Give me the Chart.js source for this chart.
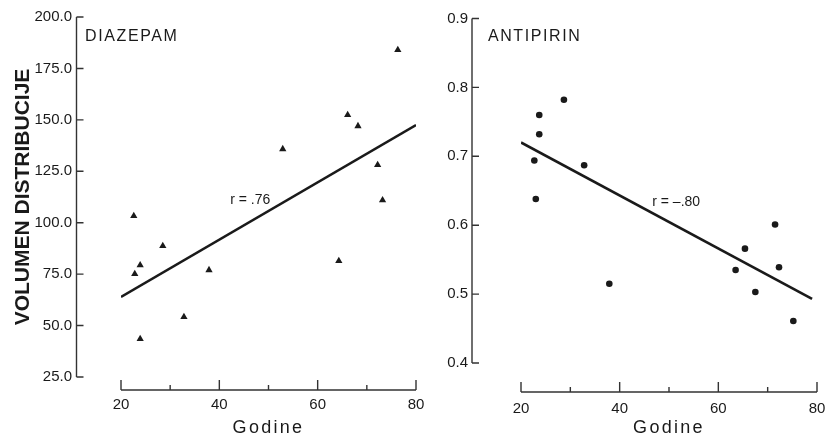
<!DOCTYPE html>
<html>
<head>
<meta charset="utf-8">
<script src="https://cdn.jsdelivr.net/npm/chart.js@4"></script>
<style>
  html, body { margin: 0; padding: 0; background: #fff; }
  #wrap { position: relative; width: 825px; height: 438px; }
  .panel { position: absolute; top: 0; }
</style>
</head>
<body>
<div id="wrap">
  <div class="panel" style="left:0"><canvas id="diazChart" width="435" height="438"></canvas></div>
  <div class="panel" style="left:435px"><canvas id="antiChart" width="390" height="438"></canvas></div>
</div>
<script>
// ---------- DATA ----------
const diazAge = [76.3, 66.1, 68.2, 52.9, 72.2, 73.2, 22.6, 22.8, 23.9, 28.5, 37.9, 32.8, 23.9, 64.3];
const diazVd  = [184.0, 152.4, 147.0, 135.8, 128.1, 111.0, 103.3, 75.1, 79.4, 88.7, 77.0, 54.2, 43.5, 81.4];
const diazFitX = [20, 80];
const diazFitY = [63.9, 147.5];
const diazYTicks = [25, 50, 75, 100, 125, 150, 175, 200];

const antiAge = [22.7, 23.7, 23.7, 28.7, 32.8, 23.0, 37.9, 63.5, 65.4, 71.5, 72.3, 67.5, 75.2];
const antiVd  = [0.694, 0.760, 0.732, 0.782, 0.687, 0.638, 0.515, 0.535, 0.566, 0.601, 0.539, 0.503, 0.461];
const antiFitX = [20, 79];
const antiFitY = [0.720, 0.493];
const antiYTicks = [0.4, 0.5, 0.6, 0.7, 0.8, 0.9];

const xLabelTicks = [20, 40, 60, 80];
const xMarkTicks = [20, 30, 40, 50, 60, 70, 80];

const INK = "#1a1a1a";
const TICK_FONT = "'Liberation Sans', Arial, sans-serif";
const TEXT_FONT = "'Liberation Sans', Arial, sans-serif";

function pairs(xs, ys) {
    return xs.map((x, i) => ({ x: x, y: ys[i] }));
}

// ---------- AXES + TEXT PLUGIN ----------
// draws the old-style detached axes and the panel labels
const paperAxes = {
    id: "paperAxes",
    afterDraw(chart, args, opts) {
        const { ctx, chartArea } = chart;
        const x = chart.scales.x;
        const y = chart.scales.y;
        ctx.save();
        ctx.strokeStyle = "#333";
        ctx.lineWidth = 1.4;

        // y axis, shifted left of the data area
        const ax = chartArea.left - opts.yGap;
        const yTop = y.getPixelForValue(y.max);
        const yBot = y.getPixelForValue(y.min);
        ctx.beginPath();
        ctx.moveTo(ax, yTop);
        ctx.lineTo(ax, yBot);
        y.ticks.forEach(t => {
            const py = y.getPixelForValue(t.value);
            ctx.moveTo(ax, py);
            ctx.lineTo(ax + 7, py);
        });
        ctx.stroke();

        // x axis, shifted below the data area, ticks pointing up
        const ay = chartArea.bottom + opts.xGap;
        ctx.beginPath();
        ctx.moveTo(x.getPixelForValue(x.min), ay);
        ctx.lineTo(x.getPixelForValue(x.max), ay);
        xMarkTicks.forEach(v => {
            const px = x.getPixelForValue(v);
            const len = v % 20 === 0 ? 10 : 5;
            ctx.moveTo(px, ay);
            ctx.lineTo(px, ay - len);
        });
        ctx.stroke();

        ctx.fillStyle = INK;
        ctx.textBaseline = "middle";

        // panel name
        ctx.font = "16px " + TEXT_FONT;
        ctx.letterSpacing = "1.6px";
        ctx.textAlign = "left";
        ctx.fillText(opts.name, x.getPixelForValue(opts.namePos[0]), y.getPixelForValue(opts.namePos[1]));

        // x title
        ctx.font = "18px " + TEXT_FONT;
        ctx.letterSpacing = "2.3px";
        ctx.textAlign = "center";
        ctx.fillText("Godine", (chartArea.left + chartArea.right) / 2, chart.height - 10);

        // correlation
        ctx.font = "14px " + TICK_FONT;
        ctx.letterSpacing = "0px";
        ctx.textAlign = "left";
        ctx.fillText(opts.rText, x.getPixelForValue(opts.rPos[0]), y.getPixelForValue(opts.rPos[1]));

        ctx.restore();
    }
};

function makeChart(canvasId, cfg) {
    const canvas = document.getElementById(canvasId);
    return new Chart(canvas.getContext("2d"), {
        type: "scatter",
        data: {
            datasets: [
                {
                    data: pairs(cfg.ages, cfg.values),
                    pointStyle: cfg.marker,
                    pointRadius: cfg.markerSize,
                    pointBackgroundColor: INK,
                    pointBorderColor: INK,
                    pointBorderWidth: 0
                },
                {
                    type: "line",
                    data: pairs(cfg.fitX, cfg.fitY),
                    borderColor: INK,
                    borderWidth: 2.6,
                    pointRadius: 0,
                    fill: false
                }
            ]
        },
        options: {
            responsive: false,
            animation: false,
            layout: { padding: cfg.padding },
            plugins: {
                legend: { display: false },
                tooltip: { enabled: false },
                paperAxes: {
                    yGap: cfg.yGap,
                    xGap: cfg.xGap,
                    name: cfg.name,
                    namePos: cfg.namePos,
                    rText: cfg.rText,
                    rPos: cfg.rPos
                }
            },
            scales: {
                x: {
                    type: "linear",
                    min: 20,
                    max: 80,
                    afterBuildTicks: s => { s.ticks = xLabelTicks.map(v => ({ value: v })); },
                    afterFit: s => {
                        s.height = cfg.xHeight;
                        s.paddingLeft = 0;
                        s.paddingRight = 0;
                    },
                    grid: { display: false, drawTicks: false },
                    border: { display: false },
                    ticks: {
                        padding: cfg.xTickPad,
                        color: INK,
                        maxRotation: 0,
                        font: { family: TICK_FONT, size: 15 }
                    }
                },
                y: {
                    min: cfg.yTicks[0],
                    max: cfg.yTicks[cfg.yTicks.length - 1],
                    afterBuildTicks: s => { s.ticks = cfg.yTicks.map(v => ({ value: v })); },
                    afterFit: s => {
                        s.width = cfg.yWidth;
                        s.paddingTop = 0;
                        s.paddingBottom = 0;
                    },
                    grid: { display: false, drawTicks: false },
                    border: { display: false },
                    title: {
                        display: !!cfg.yTitle,
                        text: cfg.yTitle || "",
                        color: INK,
                        padding: { top: 11, bottom: 0 },
                        font: { family: TEXT_FONT, size: 21, weight: "bold" }
                    },
                    ticks: {
                        padding: cfg.yTickPad,
                        color: INK,
                        font: { family: TICK_FONT, size: 15 },
                        callback: v => Number(v).toFixed(1)
                    }
                }
            }
        },
        plugins: [paperAxes]
    });
}

// ---------- DIAZEPAM ----------
makeChart("diazChart", {
    ages: diazAge, values: diazVd, fitX: diazFitX, fitY: diazFitY, yTicks: diazYTicks,
    marker: "triangle", markerSize: 4.2,
    padding: { left: 0, right: 19, top: 17, bottom: 0 },
    yWidth: 121, xHeight: 61, yGap: 44.5, xGap: 13,
    yTickPad: 49, xTickPad: 19,
    yTitle: "VOLUMEN DISTRIBUCIJE",
    name: "DIAZEPAM", namePos: [12.7, 190.3],
    rText: "r = .76", rPos: [42.2, 111]
});

// ---------- ANTIPIRIN ----------
makeChart("antiChart", {
    ages: antiAge, values: antiVd, fitX: antiFitX, fitY: antiFitY, yTicks: antiYTicks,
    marker: "circle", markerSize: 3.3,
    padding: { left: 0, right: 8, top: 18.5, bottom: 0 },
    yWidth: 86, xHeight: 75, yGap: 49, xGap: 29,
    yTickPad: 53, xTickPad: 37,
    name: "ANTIPIRIN", namePos: [13.3, 0.874],
    rText: "r = –.80", rPos: [46.6, 0.634]
});
</script>
</body>
</html>
